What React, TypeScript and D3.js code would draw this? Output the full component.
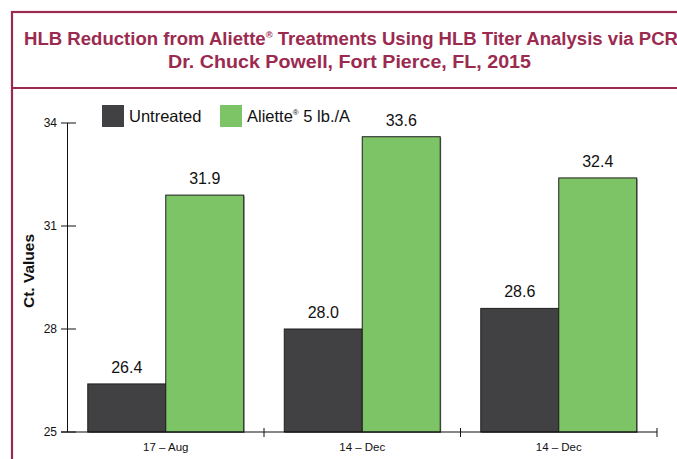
import React, { useEffect, useRef } from 'react';
import * as d3 from 'd3';

const categories = ['17 – Aug', '14 – Dec', '14 – Dec'];
const seriesNames = ['Untreated', 'Aliette® 5 lb./A'];
const untreated = [26.4, 28.0, 28.6];
const aliette = [31.9, 33.6, 32.4];
const yTicks = [25, 28, 31, 34];
const seriesColors = ['#414042', '#7dc466'];

const maroon = '#9b2a50';
const W = 677;
const H = 459;

const App = () => {
  const ref = useRef<SVGSVGElement>(null);

  useEffect(() => {
    const svg = d3.select(ref.current);
    svg.selectAll('*').remove();

    // frame
    svg.append('rect')
      .attr('x', 12).attr('y', 12)
      .attr('width', W + 20).attr('height', H + 20)
      .attr('fill', 'none').attr('stroke', maroon).attr('stroke-width', 2.2);
    svg.append('line')
      .attr('x1', 12).attr('x2', W).attr('y1', 88).attr('y2', 88)
      .attr('stroke', maroon).attr('stroke-width', 2.2);

    // title
    const title = svg.append('text')
      .attr('fill', maroon)
      .attr('font-family', 'Liberation Sans, Arial, sans-serif')
      .attr('font-weight', 'bold')
      .attr('font-size', 18);
    const t1 = title.append('tspan').attr('x', 24).attr('y', 45)
      .attr('textLength', 654).attr('lengthAdjust', 'spacingAndGlyphs');
    t1.append('tspan').text('HLB Reduction from Aliette');
    t1.append('tspan').attr('font-size', 9).attr('dy', -7).text('®');
    t1.append('tspan').attr('dy', 7).text(' Treatments Using HLB Titer Analysis via PCR');
    svg.append('text')
      .attr('x', 168).attr('y', 68)
      .attr('textLength', 363).attr('lengthAdjust', 'spacingAndGlyphs')
      .attr('fill', maroon)
      .attr('font-family', 'Liberation Sans, Arial, sans-serif')
      .attr('font-weight', 'bold')
      .attr('font-size', 18)
      .text('Dr. Chuck Powell, Fort Pierce, FL, 2015');

    const x0 = d3.scaleBand<number>()
      .domain(d3.range(categories.length))
      .range([67.5, 657]);
    const x1 = d3.scaleBand<number>()
      .domain(d3.range(seriesNames.length))
      .range([0, x0.bandwidth()])
      .paddingOuter(0.26);
    const y = d3.scaleLinear().domain([25, 34]).range([432, 123]);

    const font = 'Liberation Sans, Arial, Helvetica, sans-serif';

    // bars
    const values = [untreated, aliette];
    categories.forEach((c, i) => {
      const g = svg.append('g').attr('transform', `translate(${x0(i)},0)`);
      values.forEach((vals, s) => {
        const v = vals[i];
        g.append('rect')
          .attr('x', x1(s)! + 1)
          .attr('y', y(v) + 1)
          .attr('width', x1.bandwidth())
          .attr('height', y(25) - y(v))
          .attr('fill', '#9a9a9a');
        g.append('rect')
          .attr('x', x1(s)!)
          .attr('y', y(v))
          .attr('width', x1.bandwidth())
          .attr('height', y(25) - y(v))
          .attr('fill', seriesColors[s])
          .attr('stroke', '#1e1e1e')
          .attr('stroke-width', 1);
        g.append('text')
          .attr('x', x1(s)! + x1.bandwidth() / 2)
          .attr('y', y(v) - 11)
          .attr('text-anchor', 'middle')
          .attr('font-family', font)
          .attr('font-size', 16)
          .attr('fill', '#111')
          .text(v.toFixed(1));
      });
    });

    // y axis
    svg.append('line')
      .attr('x1', 67.5).attr('x2', 67.5).attr('y1', y(34)).attr('y2', y(25))
      .attr('stroke', '#111').attr('stroke-width', 1);
    yTicks.forEach((t) => {
      svg.append('line')
        .attr('x1', 61).attr('x2', 76).attr('y1', y(t)).attr('y2', y(t))
        .attr('stroke', '#111').attr('stroke-width', 1);
      svg.append('text')
        .attr('x', 57).attr('y', y(t) + 4)
        .attr('text-anchor', 'end')
        .attr('font-family', font).attr('font-size', 12)
        .attr('fill', '#111')
        .text(t);
    });

    // x axis
    svg.append('line')
      .attr('x1', 61).attr('x2', 657).attr('y1', y(25)).attr('y2', y(25))
      .attr('stroke', '#111').attr('stroke-width', 1.2);
    categories.forEach((c, i) => {
      const xe = x0(i)! + x0.bandwidth();
      svg.append('line')
        .attr('x1', xe).attr('x2', xe).attr('y1', y(25) - 4).attr('y2', y(25) + 5)
        .attr('stroke', '#111').attr('stroke-width', 1);
      svg.append('text')
        .attr('x', x0(i)! + x0.bandwidth() / 2)
        .attr('y', 451)
        .attr('text-anchor', 'middle')
        .attr('font-family', font).attr('font-size', 11.5)
        .attr('fill', '#111')
        .text(c);
    });

    // y label
    svg.append('text')
      .attr('transform', 'translate(34,271) rotate(-90)')
      .attr('text-anchor', 'middle')
      .attr('font-family', font).attr('font-weight', 'bold')
      .attr('font-size', 15.5)
      .attr('fill', '#111')
      .text('Ct. Values');

    // legend
    const legendX = [102, 220];
    seriesNames.forEach((name, s) => {
      svg.append('rect')
        .attr('x', legendX[s]).attr('y', 105)
        .attr('width', 22).attr('height', 22)
        .attr('fill', seriesColors[s]);
      const tx = svg.append('text')
        .attr('x', legendX[s] + 27).attr('y', 122)
        .attr('font-family', font).attr('font-size', 16.5)
        .attr('fill', '#111');
      if (name.includes('®')) {
        const [a, b] = name.split('®');
        tx.append('tspan').text(a);
        tx.append('tspan').attr('font-size', 8).attr('dy', -7).text('®');
        tx.append('tspan').attr('dy', 7).text(b);
      } else {
        tx.text(name);
      }
    });
  }, []);

  return (
    <svg
      ref={ref}
      width={W}
      height={H}
      style={{ position: 'absolute', left: 0, top: 0, background: '#fff' }}
    />
  );
};

export default App;
